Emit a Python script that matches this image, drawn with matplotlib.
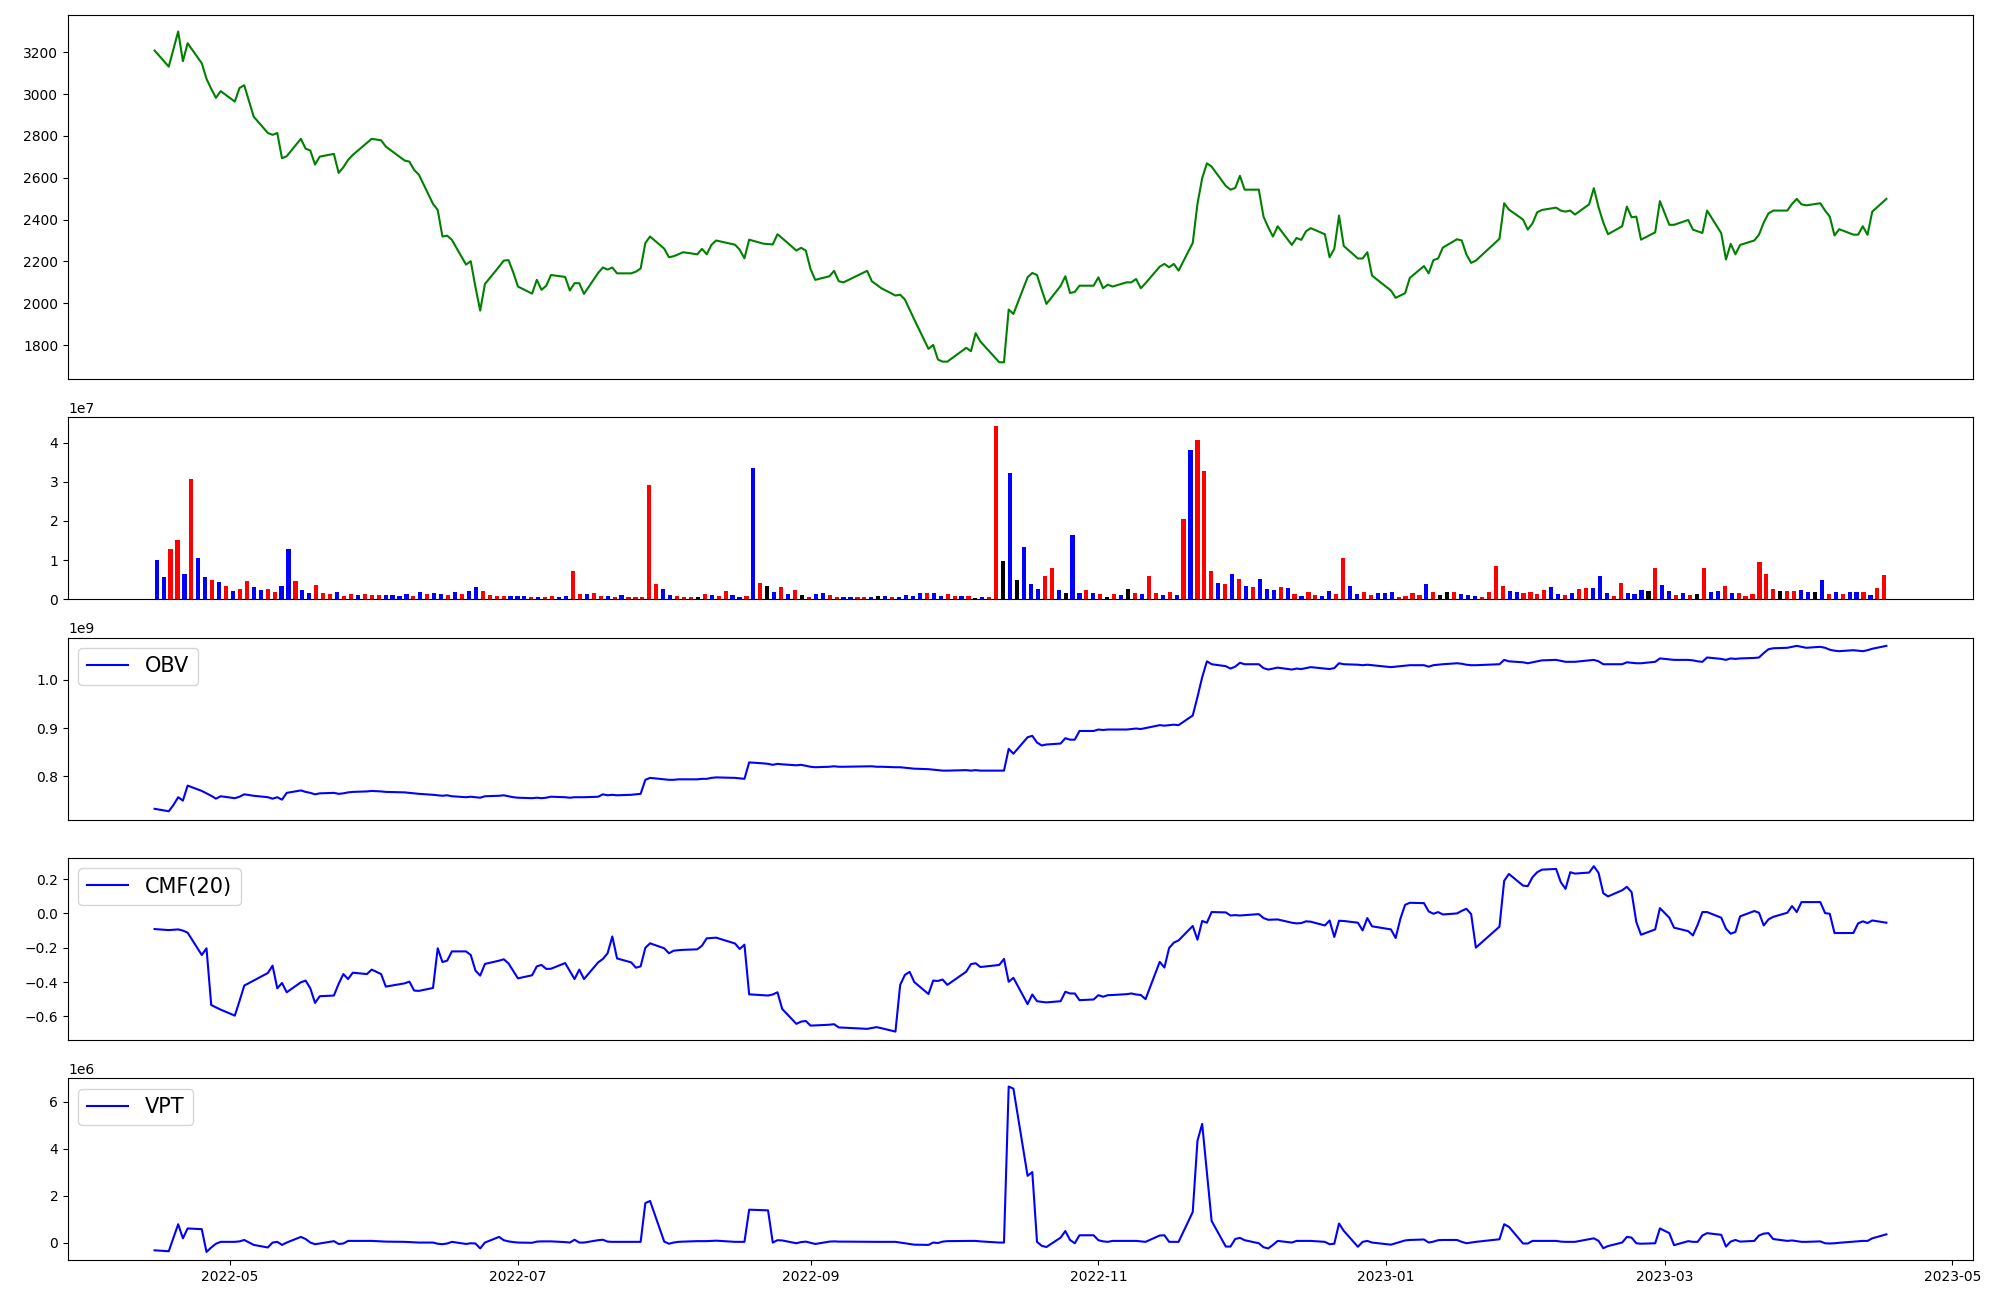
import matplotlib
matplotlib.use("Agg")
import matplotlib.pyplot as plt
import pandas as pd

# KRX trading days, 2022-04-15 .. 2023-04-17
holidays = ['2022-05-05', '2022-06-01', '2022-06-06', '2022-08-15', '2022-09-09',
            '2022-09-12', '2022-10-03', '2022-10-10', '2022-12-30', '2023-01-23',
            '2023-01-24', '2023-03-01']
days = pd.bdate_range('2022-04-15', '2023-04-17')
dates = days[~days.isin(pd.to_datetime(holidays))]

close = [3208, 3131, 3215, 3299, 3157, 3243,
         3147, 3073, 3025, 2982, 3014,
         2964, 3029, 3042, 2892,
         2814, 2805, 2814, 2693, 2703,
         2786, 2739, 2730, 2663, 2701,
         2714, 2623, 2650, 2685, 2709,
         2767, 2786, 2779, 2749,
         2682, 2677, 2637, 2615,
         2475, 2446, 2319, 2323, 2303,
         2185, 2201, 2077, 1965, 2092,
         2175, 2204, 2206, 2148, 2080,
         2046, 2112, 2064, 2084, 2135,
         2126, 2061, 2096, 2096, 2045,
         2145, 2171, 2161, 2171, 2143,
         2143, 2151, 2166, 2288, 2319,
         2261, 2220, 2225, 2234, 2244,
         2234, 2260, 2234, 2279, 2300,
         2280, 2256, 2215, 2304,
         2285, 2283, 2281, 2330, 2311,
         2252, 2265, 2252, 2164, 2112,
         2129, 2155, 2105, 2100,
         2155, 2105, 2089, 2072,
         2037, 2041, 2018, 1970, 1922,
         1782, 1801, 1731, 1721, 1721,
         1787, 1771, 1857, 1817,
         1718, 1718, 1970, 1949,
         2124, 2145, 2135, 2064, 1997,
         2083, 2129, 2049, 2054, 2084,
         2084, 2124, 2072, 2089, 2080,
         2100, 2100, 2116, 2072, 2096,
         2175, 2188, 2172, 2188, 2156,
         2288, 2475, 2598, 2669, 2653,
         2561, 2543, 2551, 2609, 2543,
         2543, 2414, 2363, 2319, 2368,
         2279, 2312, 2303, 2344, 2359,
         2330, 2220, 2260, 2419, 2274,
         2214, 2214, 2244, 2132,
         2061, 2026, 2037, 2048, 2121,
         2178, 2143, 2206, 2214, 2266,
         2306, 2300, 2233, 2193, 2204,
         2308, 2478, 2448,
         2400, 2352, 2382, 2435, 2446,
         2457, 2443, 2438, 2443, 2424,
         2473, 2550, 2459, 2386, 2330,
         2368, 2462, 2411, 2414, 2304,
         2339, 2488, 2375, 2375,
         2398, 2352, 2344, 2336, 2443,
         2335, 2209, 2284, 2234, 2279,
         2300, 2328, 2386, 2429, 2443,
         2443, 2475, 2499, 2473, 2468,
         2478, 2443, 2414, 2324, 2354,
         2328, 2328, 2368, 2327, 2438,
         2499]

# volume in units of 1e7
volume = [1.01, 0.57, 1.29, 1.52, 0.65, 3.06, 1.06, 0.57, 0.50, 0.44,
          0.34, 0.21, 0.26, 0.47, 0.32, 0.24, 0.26, 0.19, 0.34, 1.29,
          0.47, 0.24, 0.16, 0.37, 0.16, 0.14, 0.19, 0.09, 0.14, 0.11,
          0.14, 0.11, 0.11, 0.11, 0.11, 0.09, 0.14, 0.09, 0.19, 0.14,
          0.16, 0.14, 0.11, 0.19, 0.14, 0.21, 0.32, 0.21, 0.11, 0.09,
          0.09, 0.09, 0.09, 0.09, 0.06, 0.06, 0.06, 0.09, 0.06, 0.09,
          0.73, 0.14, 0.14, 0.16, 0.09, 0.09, 0.06, 0.11, 0.06, 0.06,
          0.06, 2.91, 0.39, 0.26, 0.11, 0.09, 0.06, 0.06, 0.06, 0.14,
          0.11, 0.09, 0.21, 0.11, 0.06, 0.09, 3.35, 0.42, 0.34, 0.19,
          0.31, 0.14, 0.24, 0.11, 0.06, 0.14, 0.16, 0.11, 0.06, 0.06,
          0.06, 0.06, 0.06, 0.06, 0.09, 0.09, 0.06, 0.06, 0.11, 0.09,
          0.16, 0.16, 0.16, 0.09, 0.14, 0.09, 0.09, 0.09, 0.03, 0.06,
          0.06, 4.43, 0.98, 3.23, 0.49, 1.34, 0.39, 0.26, 0.60, 0.80,
          0.24, 0.16, 1.64, 0.16, 0.24, 0.16, 0.14, 0.06, 0.14, 0.11,
          0.26, 0.16, 0.14, 0.60, 0.16, 0.11, 0.19, 0.11, 2.05, 3.81,
          4.07, 3.28, 0.72, 0.42, 0.39, 0.65, 0.52, 0.34, 0.31, 0.52,
          0.26, 0.24, 0.31, 0.29, 0.14, 0.09, 0.19, 0.11, 0.09, 0.21,
          0.14, 1.06, 0.34, 0.14, 0.19, 0.11, 0.16, 0.16, 0.19, 0.06,
          0.09, 0.16, 0.11, 0.39, 0.19, 0.11, 0.19, 0.19, 0.14, 0.11,
          0.09, 0.06, 0.19, 0.85, 0.34, 0.21, 0.19, 0.16, 0.19, 0.14,
          0.24, 0.32, 0.14, 0.11, 0.16, 0.26, 0.29, 0.29, 0.60, 0.16,
          0.09, 0.42, 0.16, 0.14, 0.24, 0.21, 0.80, 0.37, 0.21, 0.11,
          0.16, 0.11, 0.14, 0.80, 0.19, 0.21, 0.34, 0.16, 0.16, 0.09,
          0.14, 0.96, 0.65, 0.26, 0.21, 0.21, 0.21, 0.24, 0.19, 0.19,
          0.50, 0.14, 0.19, 0.14, 0.19, 0.19, 0.19, 0.11, 0.29, 0.62]

vol_codes = ("BBRRBRBBRB" "RBRRBBRRBB" "RBBRRRBRRB" "RRRBBBBRBR" "BBRBRBBRRR"
             "RBBBRBRRBB" "RRBRRBRBRR" "RRRBBRRRKR" "BRRBBRBRKB" "RBRKRBBRRB"
             "BRRBKBRBBB" "BRBBRRBRKB" "RRKBKBBBRR" "BKBBRBRKRB" "KRBRRBRBRB"
             "RRRBRBRBRB" "BBRBRBRRBB" "RRBBRRBBBR" "RRRBRKKRBB" "BRRRRBBRRR"
             "RBBRBRRBBB" "RRBBBKRBBR" "BRKRBBRBRR" "RRRRKRRBBK" "BRBRBBRBRR")

# OBV in units of 1e9
obv = [0.733, 0.728, 0.741, 0.757, 0.750, 0.781,
       0.770, 0.765, 0.760, 0.754, 0.759,
       0.755, 0.758, 0.763, 0.760,
       0.757, 0.754, 0.757, 0.752, 0.766,
       0.771, 0.768, 0.766, 0.763, 0.765,
       0.766, 0.764, 0.765, 0.767, 0.768,
       0.769, 0.770, 0.769, 0.768,
       0.767, 0.766, 0.765, 0.764,
       0.762, 0.761, 0.760, 0.761, 0.759,
       0.757, 0.758, 0.757, 0.756, 0.759,
       0.760, 0.761, 0.759, 0.757, 0.756,
       0.755, 0.756, 0.755, 0.756, 0.758,
       0.757, 0.756, 0.757, 0.757, 0.757,
       0.758, 0.763, 0.761, 0.762, 0.761,
       0.762, 0.763, 0.764, 0.793, 0.797,
       0.794, 0.793, 0.793, 0.794, 0.794,
       0.794, 0.795, 0.795, 0.797, 0.798,
       0.797, 0.796, 0.795, 0.829,
       0.827, 0.826, 0.824, 0.826, 0.825,
       0.823, 0.824, 0.822, 0.820, 0.819,
       0.820, 0.821, 0.820, 0.820,
       0.821, 0.821, 0.820, 0.820,
       0.819, 0.819, 0.818, 0.817, 0.816,
       0.815, 0.814, 0.813, 0.812, 0.812,
       0.813, 0.812, 0.813, 0.812,
       0.812, 0.812, 0.857, 0.847,
       0.881, 0.884, 0.870, 0.864, 0.866,
       0.868, 0.879, 0.876, 0.876, 0.894,
       0.894, 0.897, 0.896, 0.897, 0.897,
       0.897, 0.898, 0.899, 0.898, 0.900,
       0.906, 0.905, 0.906, 0.907, 0.906,
       0.926, 0.964, 1.005, 1.038, 1.032,
       1.028, 1.023, 1.027, 1.035, 1.032,
       1.032, 1.024, 1.021, 1.023, 1.025,
       1.021, 1.023, 1.022, 1.024, 1.026,
       1.023, 1.022, 1.024, 1.034, 1.032,
       1.031, 1.030, 1.031, 1.030,
       1.026, 1.027, 1.028, 1.029, 1.030,
       1.030, 1.027, 1.030, 1.031, 1.032,
       1.034, 1.033, 1.031, 1.030, 1.030,
       1.032, 1.041, 1.038,
       1.036, 1.034, 1.036, 1.038, 1.040,
       1.041, 1.039, 1.037, 1.037, 1.037,
       1.040, 1.041, 1.038, 1.032, 1.032,
       1.032, 1.036, 1.035, 1.034, 1.034,
       1.037, 1.044, 1.042, 1.041,
       1.041, 1.040, 1.038, 1.037, 1.046,
       1.043, 1.041, 1.044, 1.043, 1.044,
       1.045, 1.046, 1.055, 1.063, 1.065,
       1.066, 1.068, 1.070, 1.068, 1.066,
       1.068, 1.066, 1.062, 1.060, 1.059,
       1.061, 1.060, 1.059, 1.061, 1.064,
       1.070]

cmf = [-0.091, -0.097, -0.095, -0.093, -0.100, -0.112,
       -0.242, -0.203, -0.533, -0.547, -0.560,
       -0.595, -0.510, -0.420, -0.391,
       -0.347, -0.304, -0.436, -0.405, -0.459,
       -0.401, -0.391, -0.436, -0.521, -0.482,
       -0.478, -0.410, -0.353, -0.382, -0.345,
       -0.353, -0.327, -0.353, -0.426,
       -0.407, -0.397, -0.449, -0.451,
       -0.434, -0.203, -0.283, -0.275, -0.221,
       -0.221, -0.242, -0.333, -0.362, -0.294,
       -0.275, -0.267, -0.291, -0.335, -0.378,
       -0.360, -0.308, -0.300, -0.323, -0.322,
       -0.289, -0.335, -0.382, -0.327, -0.382,
       -0.285, -0.265, -0.232, -0.134, -0.262,
       -0.285, -0.316, -0.308, -0.200, -0.174,
       -0.203, -0.232, -0.217, -0.214, -0.212,
       -0.209, -0.188, -0.145, -0.143, -0.141,
       -0.175, -0.207, -0.182, -0.471,
       -0.476, -0.478, -0.472, -0.459, -0.556,
       -0.643, -0.630, -0.626, -0.653, -0.652,
       -0.648, -0.645, -0.664, -0.665,
       -0.672, -0.667, -0.662, -0.668,
       -0.688, -0.416, -0.358, -0.340, -0.400,
       -0.469, -0.391, -0.393, -0.385, -0.416,
       -0.339, -0.295, -0.290, -0.312,
       -0.300, -0.265, -0.398, -0.375,
       -0.528, -0.472, -0.511, -0.515, -0.518,
       -0.511, -0.456, -0.466, -0.466, -0.505,
       -0.501, -0.476, -0.485, -0.476, -0.475,
       -0.470, -0.466, -0.472, -0.475, -0.499,
       -0.282, -0.315, -0.201, -0.170, -0.157,
       -0.073, -0.153, -0.044, -0.054, 0.008,
       0.006, -0.012, -0.010, -0.012, -0.010,
       -0.004, -0.027, -0.037, -0.036, -0.035,
       -0.054, -0.058, -0.056, -0.046, -0.048,
       -0.070, -0.041, -0.137, -0.043, -0.044,
       -0.054, -0.099, -0.027, -0.075,
       -0.093, -0.143, -0.031, 0.050, 0.062,
       0.060, 0.012, -0.002, 0.008, -0.006,
       0.000, 0.015, 0.027, -0.004, -0.199,
       -0.077, 0.190, 0.230,
       0.162, 0.159, 0.211, 0.240, 0.255,
       0.259, 0.182, 0.143, 0.240, 0.232,
       0.238, 0.275, 0.236, 0.118, 0.099,
       0.135, 0.155, 0.124, -0.050, -0.124,
       -0.093, 0.031, -0.025, -0.083,
       -0.103, -0.128, -0.066, 0.008, 0.008,
       -0.025, -0.089, -0.118, -0.108, -0.017,
       0.014, 0.004, -0.070, -0.035, -0.020,
       0.004, 0.043, 0.008, 0.066, 0.066,
       0.066, 0.002, -0.002, -0.114, -0.114,
       -0.114, -0.058, -0.046, -0.056, -0.041,
       -0.054]

# VPT in units of 1e6
vpt = [-0.33, -0.37, 0.20, 0.78, 0.18, 0.60,
       0.57, -0.40, -0.21, -0.05, 0.03,
       0.03, 0.05, 0.11, -0.10,
       -0.21, 0.00, 0.03, -0.10, 0.00,
       0.24, 0.15, 0.00, -0.07, -0.04,
       0.06, -0.06, -0.04, 0.07, 0.07,
       0.07, 0.07, 0.05, 0.04,
       0.03, 0.02, 0.01, 0.00,
       0.00, -0.05, -0.07, -0.04, 0.03,
       -0.06, -0.03, -0.04, -0.25, 0.00,
       0.24, 0.10, 0.05, 0.02, 0.00,
       -0.01, 0.04, 0.05, 0.05, 0.05,
       0.02, 0.00, 0.12, 0.00, 0.00,
       0.10, 0.12, 0.04, 0.03, 0.03,
       0.03, 0.03, 0.03, 1.68, 1.77,
       0.04, -0.05, 0.00, 0.03, 0.04,
       0.06, 0.06, 0.06, 0.07, 0.08,
       0.03, 0.03, 0.03, 1.40,
       1.38, 1.37, 0.00, 0.10, 0.09,
       -0.03, 0.02, 0.04, -0.01, -0.06,
       0.04, 0.05, 0.04, 0.04,
       0.03, 0.03, 0.03, 0.03,
       0.03, 0.00, -0.03, -0.06, -0.09,
       -0.10, 0.00, -0.02, 0.04, 0.06,
       0.07, 0.07, 0.07, 0.05,
       0.00, 0.00, 6.64, 6.55,
       2.84, 3.00, 0.03, -0.14, -0.19,
       0.21, 0.49, 0.11, -0.03, 0.31,
       0.31, 0.10, 0.05, 0.03, 0.07,
       0.07, 0.07, 0.07, 0.05, 0.03,
       0.30, 0.31, 0.03, 0.03, 0.03,
       1.30, 4.33, 5.05, 3.00, 0.92,
       -0.17, -0.17, 0.15, 0.20, 0.10,
       -0.03, -0.20, -0.25, -0.10, 0.07,
       0.00, 0.07, 0.07, 0.07, 0.07,
       0.03, -0.07, -0.05, 0.81, 0.50,
       -0.18, 0.03, 0.07, 0.00,
       -0.09, -0.03, 0.03, 0.09, 0.11,
       0.13, 0.00, 0.04, 0.10, 0.11,
       0.11, 0.03, -0.03, 0.00, 0.03,
       0.14, 0.78, 0.67,
       -0.04, -0.04, 0.07, 0.07, 0.07,
       0.07, 0.04, 0.03, 0.03, 0.03,
       0.14, 0.18, 0.07, -0.24, -0.15,
       0.00, 0.24, 0.21, -0.03, -0.05,
       -0.03, 0.60, 0.40, -0.11,
       0.06, 0.03, 0.03, 0.30, 0.40,
       0.33, -0.17, 0.04, 0.11, 0.04,
       0.07, 0.30, 0.38, 0.40, 0.15,
       0.07, 0.09, 0.06, 0.03, 0.03,
       0.05, -0.03, -0.04, -0.03, -0.01,
       0.04, 0.06, 0.07, 0.07, 0.18,
       0.35]

code_color = {'R': 'red', 'B': 'blue', 'K': 'black'}
bar_colors = [code_color[c] for c in vol_codes]

fig = plt.figure(figsize=(20, 13), dpi=100)
gs = fig.add_gridspec(5, 1, height_ratios=[2, 1, 1, 1, 1], left=0.034, right=0.9865,
                      top=0.9885, bottom=0.0306, hspace=0.176)

ax1 = fig.add_subplot(gs[0])
ax1.plot(dates, close, color='green')
ax1.tick_params(bottom=False, labelbottom=False)

ax2 = fig.add_subplot(gs[1])
ax2.bar(range(len(volume)), [v * 1e7 for v in volume], width=0.6, color=bar_colors)
ax2.set_xticks([])

ax3 = fig.add_subplot(gs[2], sharex=ax1)
ax3.plot(dates, [v * 1e9 for v in obv], color='blue', label='OBV')
ax3.legend(loc='upper left', fontsize=15)
ax3.tick_params(bottom=False, labelbottom=False)

ax4 = fig.add_subplot(gs[3], sharex=ax1)
ax4.plot(dates, cmf, color='blue', label='CMF(20)')
ax4.legend(loc='upper left', fontsize=15)
ax4.tick_params(bottom=False, labelbottom=False)

ax5 = fig.add_subplot(gs[4], sharex=ax1)
ax5.plot(dates, [v * 1e6 for v in vpt], color='blue', label='VPT')
ax5.legend(loc='upper left', fontsize=15)

fig.savefig('out.png', dpi=100)
